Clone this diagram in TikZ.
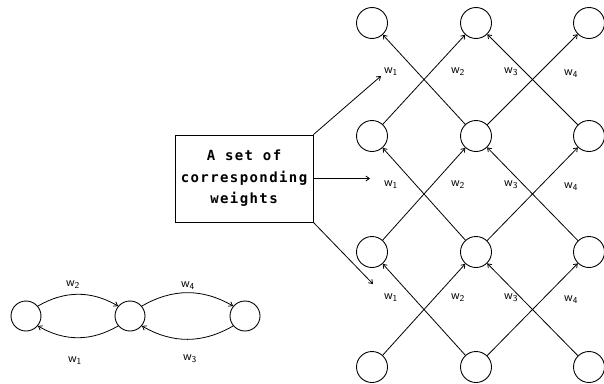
\documentclass[tikz,border=0pt]{standalone}
\usepackage{fontspec}
\newfontfamily\boxfont[LetterSpace=10]{DejaVu Sans Mono Bold}
\usetikzlibrary{arrows.meta}
\begin{document}
\begin{tikzpicture}[x=1pt,y=-1pt,
  unit/.style={draw,circle,minimum size=31pt,inner sep=0pt,line width=0.9pt},
  conn/.style={line width=0.8pt,-{Straight Barb[length=3.5pt,width=5pt]}},
  wl/.style={font=\sffamily\fontsize{13}{14}\selectfont,inner sep=0pt}]
\useasboundingbox (0,0) rectangle (604,383);
% grid
\foreach \r/\yy in {a/23,b/136,c/252,d/367}{
  \node[unit] (\r1) at (372,\yy) {};
  \node[unit] (\r2) at (476,\yy) {};
  \node[unit] (\r3) at (589,\yy) {};
}
\foreach \s/\t in {d1/c2,d2/c1,d2/c3,d3/c2,c1/b2,c2/b1,c2/b3,c3/b2,b1/a2,b2/a1,b2/a3,b3/a2}
  \draw[conn] (\s) -- (\t);
% weight labels
\foreach \yy/\dy in {72/0,185/1,298/2}{
  \node[wl] (w1\dy) at (391,\yy) {w\textsubscript{1}};
  \node[wl] (w2\dy) at (458,\yy) {w\textsubscript{2}};
  \node[wl] (w3\dy) at (511,\yy) {w\textsubscript{3}};
  \node[wl] (w4\dy) at (571,\yy+2) {w\textsubscript{4}};
}
% box
\node[draw,line width=0.9pt,minimum width=138pt,minimum height=87pt,align=center,
  font=\boxfont\fontsize{14}{21.5}\selectfont] (box) at (244,178.5)
  {A set of\\corresponding\\weights};
\coordinate (t1) at (381,76);
\coordinate (t2) at (box.east -| 370,0);
\coordinate (t3) at (373,284);
\draw[conn] (box.north east) -- (t1);
\draw[conn] (box.east) -- (t2);
\draw[conn] (box.south east) -- (t3);
% small network
\node[unit,minimum size=30pt] (L) at (26,316) {};
\node[unit,minimum size=30pt] (M) at (130,316) {};
\node[unit,minimum size=30pt] (R) at (245,316) {};
\draw[conn] (L.40) to[out=30,in=150] (M.140);
\draw[conn] (M.-140) to[out=-150,in=-30] (L.-40);
\draw[conn] (M.40) to[out=30,in=150] (R.140);
\draw[conn] (R.-140) to[out=-150,in=-30] (M.-40);
\node[wl] (u2) at (73,285) {w\textsubscript{2}};
\node[wl] (u1) at (75,361) {w\textsubscript{1}};
\node[wl] (u4) at (188,286) {w\textsubscript{4}};
\node[wl] (u3) at (190,359) {w\textsubscript{3}};
\end{tikzpicture}
\end{document}
